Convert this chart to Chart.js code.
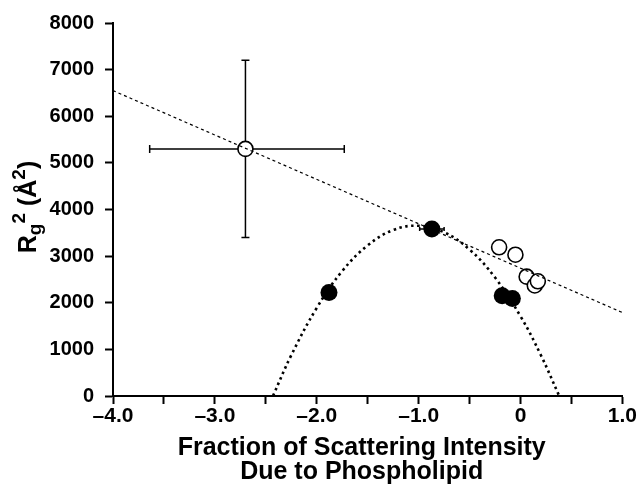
<!DOCTYPE html>
<html>
<head>
<meta charset="utf-8">
<script src="https://cdn.jsdelivr.net/npm/chart.js@4.4.1/dist/chart.umd.min.js"></script>
<style>
  html, body { margin: 0; padding: 0; background: #fff; }
  #wrap { width: 637px; height: 485px; position: relative; }
</style>
</head>
<body>
<div id="wrap"><canvas id="c" width="637" height="485"></canvas></div>
<script>
// ---- data ----
const openX = [-2.70, -0.21, -0.05, 0.06, 0.14, 0.17];
const openY = [5300, 3190, 3030, 2560, 2370, 2460];

const filledX = [-1.88, -0.87, -0.18, -0.08];
const filledY = [2220, 3580, 2150, 2090];

const lineX = [-4.0, 1.0];
const lineY = [6550, 1790];

const curveX = [-2.43, -2.25, -2.0, -1.75, -1.5, -1.25, -1.0, -0.75, -0.5, -0.25, 0.0, 0.2, 0.38];
const curveY = [0, 875, 1890, 2680, 3230, 3560, 3650, 3510, 3140, 2540, 1710, 875, 0];

const errX = [-2.70, -0.87];
const errY = [5300, 3580];
const errXLow = [-3.64, -0.99];
const errXHigh = [-1.73, -0.75];
const errYLow = [3400, 3580];
const errYHigh = [7200, 3580];
const errCap = [8, 4];

const xTicksMajor = [-4, -3, -2, -1, 0, 1];
const xTitleLines = ['Fraction of Scattering Intensity', 'Due to Phospholipid'];

const zip = (xs, ys) => xs.map((x, i) => ({ x: x, y: ys[i] }));

const FONT = '"Liberation Sans", Arial, Helvetica, sans-serif';

const extras = {
  id: 'extras',
  beforeDatasetsDraw(chart) {
    const ctx = chart.ctx, xs = chart.scales.x, ys = chart.scales.y;
    ctx.save();
    ctx.strokeStyle = '#000';
    ctx.lineWidth = 1.5;
    for (let i = 0; i < errX.length; i++) {
      const cx = xs.getPixelForValue(errX[i]);
      const cy = ys.getPixelForValue(errY[i]);
      const xl = xs.getPixelForValue(errXLow[i]);
      const xh = xs.getPixelForValue(errXHigh[i]);
      const yl = ys.getPixelForValue(errYLow[i]);
      const yh = ys.getPixelForValue(errYHigh[i]);
      const c = errCap[i] / 2;
      ctx.beginPath();
      ctx.moveTo(xl, cy); ctx.lineTo(xh, cy);
      ctx.moveTo(xl, cy - c); ctx.lineTo(xl, cy + c);
      ctx.moveTo(xh, cy - c); ctx.lineTo(xh, cy + c);
      if (yl !== yh) {
        ctx.moveTo(cx, yl); ctx.lineTo(cx, yh);
        ctx.moveTo(cx - c, yl); ctx.lineTo(cx + c, yl);
        ctx.moveTo(cx - c, yh); ctx.lineTo(cx + c, yh);
      }
      ctx.stroke();
    }
    ctx.restore();
  },
  afterDraw(chart) {
    const ctx = chart.ctx, a = chart.chartArea;
    ctx.save();
    ctx.fillStyle = '#000';
    // x title
    ctx.font = 'bold 25px ' + FONT;
    ctx.textAlign = 'center';
    ctx.textBaseline = 'alphabetic';
    const cx = (a.left + a.right) / 2 - 6;
    ctx.fillText(xTitleLines[0], cx, 455);
    ctx.fillText(xTitleLines[1], cx, 479);
    // y title (rotated) with sub/superscripts
    ctx.translate(36, 207);
    ctx.rotate(-Math.PI / 2);
    ctx.textAlign = 'left';
    const parts = [
      { t: 'R', f: 25, dy: 0 },
      { t: 'g', f: 19, dy: 5 },
      { t: '2', f: 19, dy: -11 },
      { t: ' (Å', f: 25, dy: 0 },
      { t: '2', f: 19, dy: -11 },
      { t: ')', f: 25, dy: 0 }
    ];
    let total = 0;
    parts.forEach(p => { ctx.font = 'bold ' + p.f + 'px ' + FONT; p.w = ctx.measureText(p.t).width; total += p.w; });
    let x = -total / 2;
    parts.forEach(p => {
      ctx.font = 'bold ' + p.f + 'px ' + FONT;
      ctx.fillText(p.t, x, p.dy);
      x += p.w;
    });
    ctx.restore();
  }
};

new Chart(document.getElementById('c'), {
  type: 'scatter',
  data: {
    datasets: [
      {
        type: 'line',
        data: zip(lineX, lineY),
        borderColor: '#000',
        borderWidth: 1.2,
        borderDash: [3, 3],
        pointRadius: 0,
        fill: false,
        tension: 0
      },
      {
        type: 'line',
        data: zip(curveX, curveY),
        borderColor: '#000',
        borderWidth: 2.6,
        borderDash: [2.5, 3.5],
        borderCapStyle: 'butt',
        pointRadius: 0,
        fill: false,
        tension: 0.4
      },
      {
        data: zip(openX, openY),
        pointRadius: 7.5,
        pointBackgroundColor: '#fff',
        pointBorderColor: '#000',
        pointBorderWidth: 1.6
      },
      {
        data: zip(filledX, filledY),
        pointRadius: 8.5,
        pointBackgroundColor: '#000',
        pointBorderColor: '#000',
        pointBorderWidth: 0
      }
    ]
  },
  options: {
    responsive: false,
    animation: false,
    devicePixelRatio: 1,
    layout: { padding: { top: 21, right: 14, bottom: 0, left: 0 } },
    plugins: { legend: { display: false }, tooltip: { enabled: false } },
    scales: {
      x: {
        type: 'linear',
        min: -4, max: 1,
        afterFit(s) { s.height = 89; },
        afterBuildTicks(s) {
          const t = [];
          for (let v = -4; v <= 1.0001; v += 0.5) t.push({ value: Math.round(v * 10) / 10 });
          s.ticks = t;
        },
        ticks: {
          autoSkip: false,
          maxRotation: 0,
          padding: 0,
          color: '#000',
          font: { family: FONT, size: 21, weight: 'bold' },
          callback(v) {
            if (!xTicksMajor.includes(v)) return '';
            if (v === 0) return '0';
            return (v < 0 ? '–' : '') + Math.abs(v).toFixed(1);
          }
        },
        grid: { drawOnChartArea: false, drawTicks: true, tickLength: 8, tickWidth: 2, tickColor: '#000' },
        border: { display: true, color: '#000', width: 2 }
      },
      y: {
        type: 'linear',
        min: 0, max: 8000,
        afterFit(s) { s.width = 113; },
        ticks: {
          stepSize: 1000,
          padding: 11,
          color: '#000',
          font: { family: FONT, size: 20, weight: 'bold' },
          callback(v) { return String(v); }
        },
        grid: { drawOnChartArea: false, drawTicks: true, tickLength: 8, tickWidth: 2, tickColor: '#000' },
        border: { display: true, color: '#000', width: 2 }
      }
    }
  },
  plugins: [extras]
});
</script>
</body>
</html>
